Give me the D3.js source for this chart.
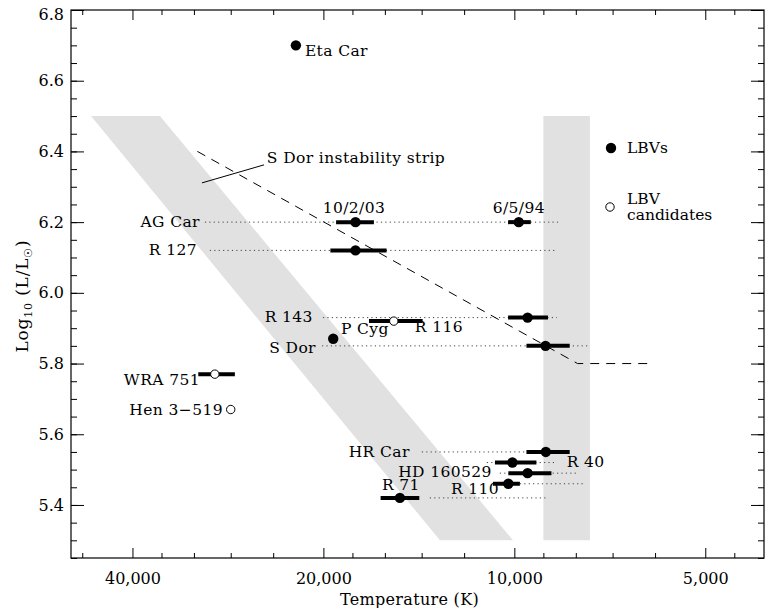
<!DOCTYPE html>
<html>
<head>
<meta charset="utf-8">
<script src="https://cdn.jsdelivr.net/npm/d3@7"></script>
<style>
  body { margin: 0; background: #fff; }
  svg text { font-family: "DejaVu Serif", serif; fill: #000; }
</style>
</head>
<body>
<div id="chart"></div>
<script>
// ---- data (temperature in K, log10 L/Lsun) ----
const xMajorTicks = [40000, 20000, 10000, 5000];
const xMinorTicks = [48000, 36000, 32000, 28000, 24000, 18000, 16000, 14000, 12000,
                     9000, 8000, 7000, 6000, 4500];
const yMajorTicks = [5.4, 5.6, 5.8, 6.0, 6.2, 6.4, 6.6, 6.8];
const yMinorTicks = d3.range(5.25, 6.8, 0.05).map(d => +d.toFixed(2));

// gray zones
const sDorStrip = [[46500, 6.5], [36200, 6.5], [10050, 5.3], [13100, 5.3]];
const coolZone = [[9000, 6.5], [7600, 6.5], [7600, 5.3], [9000, 5.3]];

// dashed line
const dashedLine = [[31600, 6.4], [7950, 5.8], [6100, 5.8]];

// filled = LBVs, open = LBV candidates ; tHot/tCool = horizontal error bar
const lbvs = [
  { name: "Eta Car", temp: 22100, lum: 6.70 },
  { name: "AG Car 10/2/03", temp: 17800, lum: 6.20, tHot: 19100, tCool: 16650 },
  { name: "AG Car 6/5/94", temp: 9840, lum: 6.20, tHot: 10230, tCool: 9420 },
  { name: "R 127", temp: 17800, lum: 6.12, tHot: 19500, tCool: 15900 },
  { name: "R 143", temp: 9530, lum: 5.93, tHot: 10230, tCool: 8850 },
  { name: "P Cyg", temp: 19300, lum: 5.87 },
  { name: "S Dor", temp: 8930, lum: 5.85, tHot: 9570, tCool: 8180 },
  { name: "HR Car", temp: 8920, lum: 5.55, tHot: 9570, tCool: 8180 },
  { name: "R 40", temp: 10070, lum: 5.52, tHot: 10730, tCool: 9230 },
  { name: "HD 160529", temp: 9530, lum: 5.49, tHot: 10220, tCool: 8740 },
  { name: "R 110", temp: 10220, lum: 5.46, tHot: 10810, tCool: 9800 },
  { name: "R 71", temp: 15150, lum: 5.42, tHot: 16250, tCool: 14120 }
];
const candidates = [
  { name: "R 116", temp: 15490, lum: 5.92, tHot: 16950, tCool: 13950 },
  { name: "WRA 751", temp: 29660, lum: 5.77, tHot: 31500, tCool: 27580 },
  { name: "Hen 3-519", temp: 28000, lum: 5.67 }
];

// dotted guide lines
const guides = [
  { name: "AG Car", lum: 6.20, from: 30750, to: 8480 },
  { name: "R 127", lum: 6.12, from: 30200, to: 8630 },
  { name: "R 143", lum: 5.93, from: 20030, to: 8570 },
  { name: "S Dor", lum: 5.85, from: 20100, to: 7600 },
  { name: "HR Car", lum: 5.55, from: 13990, to: 9570 },
  { name: "R 40", lum: 5.52, from: 11050, to: 8570 },
  { name: "HD 160529", lum: 5.49, from: 10540, to: 7940 },
  { name: "R 110", lum: 5.46, from: 9800, to: 7740 },
  { name: "R 71", lum: 5.42, from: 13590, to: 8890 }
];

// text labels anchored at (temp, lum)
const labels = [
  { text: "Eta Car", temp: 21390, lum: 6.670, anchor: "start" },
  { text: "10/2/03", temp: 17900, lum: 6.226, anchor: "middle" },
  { text: "6/5/94", temp: 9840, lum: 6.226, anchor: "middle" },
  { text: "AG Car", temp: 31310, lum: 6.186, anchor: "end" },
  { text: "R 127", temp: 31640, lum: 6.107, anchor: "end" },
  { text: "R 143", temp: 20780, lum: 5.917, anchor: "end" },
  { text: "R 116", temp: 14350, lum: 5.889, anchor: "start" },
  { text: "P Cyg", temp: 18770, lum: 5.883, anchor: "start" },
  { text: "S Dor", temp: 20550, lum: 5.830, anchor: "end" },
  { text: "WRA 751", temp: 31310, lum: 5.739, anchor: "end" },
  { text: "Hen 3\u2212519", temp: 28800, lum: 5.654, anchor: "end" },
  { text: "HR Car", temp: 14620, lum: 5.535, anchor: "end" },
  { text: "R 40", temp: 8270, lum: 5.507, anchor: "start" },
  { text: "HD 160529", temp: 10850, lum: 5.479, anchor: "end" },
  { text: "R 110", temp: 12590, lum: 5.432, anchor: "start" },
  { text: "R 71", temp: 16170, lum: 5.442, anchor: "start" },
  { text: "S Dor instability strip", temp: 24560, lum: 6.367, anchor: "start" }
];
const stripPointer = [[31080, 6.311], [24810, 6.362]];

// ---- chart ----
const width = 765, height = 608;
const plotLeft = 71, plotRight = 764, plotTop = 10, plotBottom = 558;

const x = d3.scaleLog().domain([50000, 4040]).range([plotLeft, plotRight]);
const y = d3.scaleLinear().domain([5.25, 6.8]).range([plotBottom, plotTop]);

const svg = d3.select("#chart").append("svg")
  .attr("width", width)
  .attr("height", height);

const line = d3.line().x(d => x(d[0])).y(d => y(d[1]));

// gray zones
svg.append("path").attr("d", line(sDorStrip) + "Z").attr("fill", "#e1e1e1");
svg.append("path").attr("d", line(coolZone) + "Z").attr("fill", "#e1e1e1");

// dotted guides
svg.selectAll(".guide")
  .data(guides)
  .enter().append("line")
  .attr("x1", d => x(d.from)).attr("x2", d => x(d.to))
  .attr("y1", d => y(d.lum)).attr("y2", d => y(d.lum))
  .attr("stroke", "#444")
  .attr("stroke-width", 1)
  .attr("stroke-dasharray", "1.2 3.2");

// dashed line
svg.append("path")
  .attr("d", line(dashedLine))
  .attr("fill", "none")
  .attr("stroke", "#000")
  .attr("stroke-width", 1)
  .attr("stroke-dasharray", "9 7");

// pointer to strip label
svg.append("path")
  .attr("d", line(stripPointer))
  .attr("stroke", "#000")
  .attr("stroke-width", 1);

const allStars = lbvs.concat(candidates);

// error bars
svg.selectAll(".err")
  .data(allStars.filter(d => d.tHot))
  .enter().append("line")
  .attr("x1", d => x(d.tHot)).attr("x2", d => x(d.tCool))
  .attr("y1", d => y(d.lum)).attr("y2", d => y(d.lum))
  .attr("stroke", "#000")
  .attr("stroke-width", 4);

// LBVs
svg.selectAll(".lbv")
  .data(lbvs)
  .enter().append("circle")
  .attr("cx", d => x(d.temp))
  .attr("cy", d => y(d.lum))
  .attr("r", 5.2)
  .attr("fill", "#000");

// candidates
svg.selectAll(".cand")
  .data(candidates)
  .enter().append("circle")
  .attr("cx", d => x(d.temp))
  .attr("cy", d => y(d.lum))
  .attr("r", 4.2)
  .attr("fill", "#fff")
  .attr("stroke", "#000")
  .attr("stroke-width", 1);

// labels
svg.selectAll(".lab")
  .data(labels)
  .enter().append("text")
  .attr("x", d => x(d.temp))
  .attr("y", d => y(d.lum))
  .attr("text-anchor", d => d.anchor)
  .attr("font-size", "15.5px")
  .attr("letter-spacing", "0.4px")
  .text(d => d.text);

// axes (ticks inward on all four sides)
const addAxis = (axis, tx, ty) => {
  const g = svg.append("g").attr("transform", `translate(${tx},${ty})`).call(axis);
  g.select(".domain").remove();
  g.selectAll(".tick line").attr("stroke", "#000").attr("stroke-width", 1);
  g.selectAll("text").attr("font-size", "16px").attr("font-family", "DejaVu Serif, serif").attr("fill", "#000");
  return g;
};

addAxis(d3.axisBottom(x).tickValues(xMajorTicks).tickSize(-10).tickPadding(15).tickFormat(d3.format(",")), 0, plotBottom);
addAxis(d3.axisBottom(x).tickValues(xMinorTicks).tickSize(-5).tickFormat(""), 0, plotBottom);
addAxis(d3.axisTop(x).tickValues(xMajorTicks).tickSize(-10).tickFormat(""), 0, plotTop);
addAxis(d3.axisTop(x).tickValues(xMinorTicks).tickSize(-5).tickFormat(""), 0, plotTop);

const yAxisG = addAxis(d3.axisLeft(y).tickValues(yMajorTicks).tickSize(-13).tickPadding(7).tickFormat(d3.format(".1f")), plotLeft, 0);
// top label sits a little below the frame corner, as in the original
yAxisG.selectAll(".tick text").filter(d => d === 6.8).attr("dy", "0.62em");
addAxis(d3.axisLeft(y).tickValues(yMinorTicks).tickSize(-6).tickFormat(""), plotLeft, 0);
addAxis(d3.axisRight(y).tickValues(yMajorTicks).tickSize(-13).tickFormat(""), plotRight, 0);
addAxis(d3.axisRight(y).tickValues(yMinorTicks).tickSize(-6).tickFormat(""), plotRight, 0);

// frame
svg.append("rect")
  .attr("x", plotLeft).attr("y", plotTop)
  .attr("width", plotRight - plotLeft).attr("height", plotBottom - plotTop)
  .attr("fill", "none")
  .attr("stroke", "#000")
  .attr("stroke-width", 1.2);

// axis titles
svg.append("text")
  .attr("x", (plotLeft + plotRight) / 2 - 8)
  .attr("y", 605)
  .attr("text-anchor", "middle")
  .attr("font-size", "16px")
  .attr("letter-spacing", "0.3px")
  .text("Temperature (K)");

const yTitle = svg.append("text")
  .attr("transform", "translate(28,296) rotate(-90)")
  .attr("text-anchor", "middle")
  .attr("font-size", "17px")
  .attr("letter-spacing", "0.8px");
yTitle.append("tspan").text("Log");
yTitle.append("tspan").attr("font-size", "11px").attr("dy", 4).text("10");
yTitle.append("tspan").attr("dy", -4).text(" (L/L");
yTitle.append("tspan").attr("font-size", "11px").attr("dy", 4).text("\u2609");
yTitle.append("tspan").attr("dy", -4).text(")");

// legend
const legend = svg.append("g").attr("font-size", "15.5px");
legend.append("circle").attr("cx", 611).attr("cy", 148).attr("r", 5.2).attr("fill", "#000");
legend.append("text").attr("x", 627).attr("y", 153).text("LBVs");
legend.append("circle").attr("cx", 610).attr("cy", 207).attr("r", 4.2)
  .attr("fill", "#fff").attr("stroke", "#000").attr("stroke-width", 1);
legend.append("text").attr("x", 627).attr("y", 204).text("LBV");
legend.append("text").attr("x", 627).attr("y", 220).text("candidates");
</script>
</body>
</html>
